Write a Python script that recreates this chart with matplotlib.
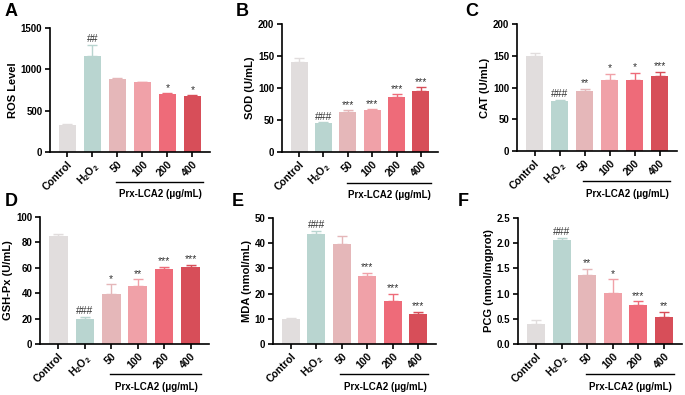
import matplotlib
matplotlib.use("Agg")
import matplotlib.pyplot as plt
import matplotlib.transforms as mtransforms

plt.rcParams['font.family'] = ['Liberation Sans', 'DejaVu Sans']
plt.rcParams['font.weight'] = 'bold'
plt.rcParams['mathtext.fontset'] = 'custom'
plt.rcParams['mathtext.rm'] = 'Liberation Sans:bold'
plt.rcParams['mathtext.default'] = 'rm'

groups = ["Control", "H$_2$O$_2$", "50", "100", "200", "400"]
colors = ["#e1dddd", "#b9d5d0", "#e5b7b9", "#f0a1a8", "#ee6b79", "#d74e59"]

ros = [330, 1160, 880, 845, 700, 675]
ros_err = [10, 140, 12, 6, 10, 15]
ros_sig = ["", "##", "", "", "*", "*"]

sod = [140, 45, 62, 65, 86, 95]
sod_err = [7, 2, 3, 2, 4, 6]
sod_sig = ["", "###", "***", "***", "***", "***"]

cat = [150, 79, 94, 112, 112, 118]
cat_err = [4, 2, 4, 10, 11, 7]
cat_sig = ["", "###", "**", "*", "*", "***"]

gsh = [85, 20, 39, 46, 59, 61]
gsh_err = [1.5, 1.5, 8, 5, 2, 1.5]
gsh_sig = ["", "###", "*", "**", "***", "***"]

mda = [10, 43.5, 39.5, 27, 17, 12]
mda_err = [0.3, 1.5, 3.3, 1.3, 3, 0.8]
mda_sig = ["", "###", "", "***", "***", "***"]

pcg = [0.4, 2.06, 1.36, 1.02, 0.78, 0.54]
pcg_err = [0.07, 0.05, 0.13, 0.27, 0.07, 0.1]
pcg_sig = ["", "###", "**", "*", "***", "**"]

panels = [
    ("A", ros, ros_err, ros_sig, "ROS Level", 1500, [0, 500, 1000, 1500], "{:.0f}"),
    ("B", sod, sod_err, sod_sig, "SOD (U/mL)", 200, [0, 50, 100, 150, 200], "{:.0f}"),
    ("C", cat, cat_err, cat_sig, "CAT (U/mL)", 200, [0, 50, 100, 150, 200], "{:.0f}"),
    ("D", gsh, gsh_err, gsh_sig, "GSH-Px (U/mL)", 100, [0, 20, 40, 60, 80, 100], "{:.0f}"),
    ("E", mda, mda_err, mda_sig, "MDA (nmol/mL)", 50, [0, 10, 20, 30, 40, 50], "{:.0f}"),
    ("F", pcg, pcg_err, pcg_sig, "PCG (nmol/mgprot)", 2.5, [0, 0.5, 1.0, 1.5, 2.0, 2.5], "{:.1f}"),
]

# axes boxes in pixels: left, right, top, bottom
boxes = [(50, 210, 28, 152), (282, 438, 24, 152), (517, 677, 24, 151),
         (40, 209, 217, 344), (273, 436, 218, 344), (518, 682, 218, 344)]
label_pos = [(5, 12), (236, 12), (465, 12), (5, 201), (232, 201), (458, 201)]

W, H = 685, 395
fig = plt.figure(figsize=(6.85, 3.95), dpi=100)

for (lab, vals, errs, sig, ylab, ymax, yt, fmt), (l, r, t, b), (lx, ly) in zip(panels, boxes, label_pos):
    ax = fig.add_axes([l / W, 1 - b / H, (r - l) / W, (b - t) / H])
    x = range(len(vals))
    ax.bar(x, vals, width=0.7, color=colors, zorder=2)
    for xi, v, e, c in zip(x, vals, errs, colors):
        ax.errorbar(xi, v, yerr=[[0], [e]], fmt='none', ecolor=c, elinewidth=1.0,
                    capsize=3.5, capthick=1.0, zorder=1)
    for xi, v, e, s in zip(x, vals, errs, sig):
        if s:
            ax.text(xi, v + e + ymax * 0.003, s, ha='center', va='bottom',
                    fontsize=7.5, fontweight='normal', color='#333333')
    ax.set_xlim(-0.7, 5.7)
    ax.set_ylim(0, ymax)
    ax.set_yticks(yt)
    ax.set_yticklabels([fmt.format(v) for v in yt], fontsize=7, fontweight='bold')
    ax.set_xticks(list(x))
    ax.set_xticklabels(groups, rotation=45, ha='right', rotation_mode='anchor',
                       fontsize=7.5, fontweight='bold')
    ax.set_ylabel(ylab, fontsize=8, fontweight='bold', labelpad=2)
    for sp in ['top', 'right']:
        ax.spines[sp].set_visible(False)
    for sp in ['left', 'bottom']:
        ax.spines[sp].set_linewidth(1.2)
    ax.tick_params(width=1.2, length=3.5, pad=2)
    # group bracket
    tr = mtransforms.blended_transform_factory(ax.transData, ax.transAxes)
    ax.plot([1.95, 5.4], [-0.24, -0.24], color='black', lw=1.0, transform=tr,
            clip_on=False)
    ax.text(3.7, -0.3, "Prx-LCA2 (\u03bcg/mL)", transform=tr, ha='center', va='top',
            fontsize=7, fontweight='bold')
    fig.text(lx / W, 1 - ly / H, lab, fontsize=13, fontweight='bold', va='center')

fig.savefig("out.png", dpi=100)
